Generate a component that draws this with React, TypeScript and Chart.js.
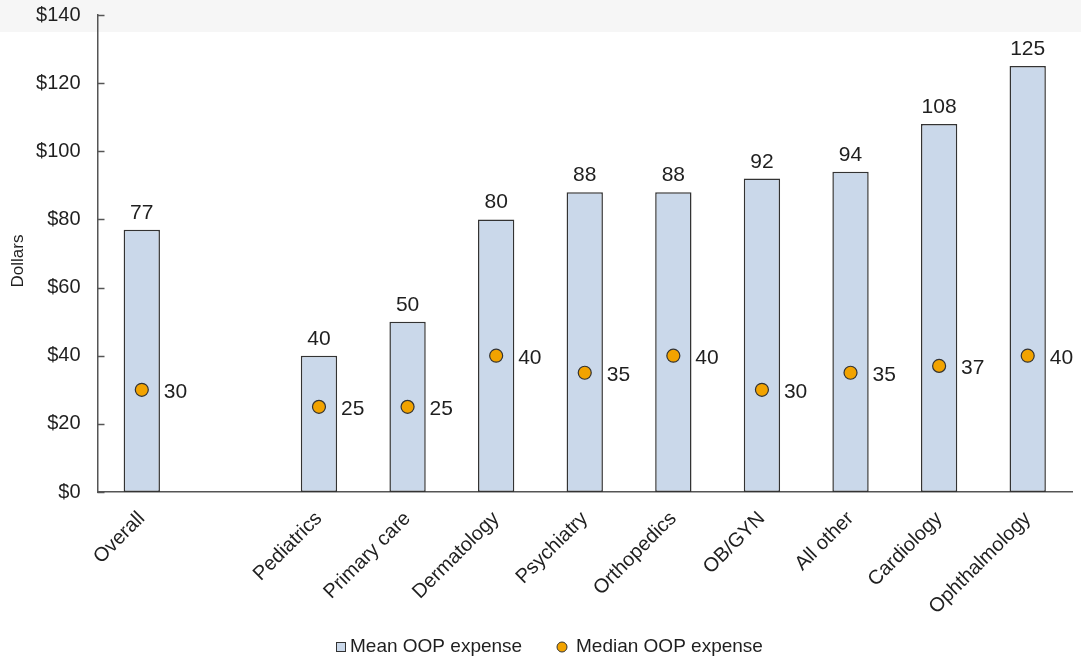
import { useEffect, useRef } from "react";
import { Chart, registerables } from "chart.js";

Chart.register(...registerables);

// Specialty categories (the blank entry leaves a gap after "Overall")
const categories = [
  "Overall",
  "",
  "Pediatrics",
  "Primary care",
  "Dermatology",
  "Psychiatry",
  "Orthopedics",
  "OB/GYN",
  "All other",
  "Cardiology",
  "Ophthalmology",
];

// Mean out-of-pocket expense per visit, dollars
const meanExpense: (number | null)[] = [77, null, 40, 50, 80, 88, 88, 92, 94, 108, 125];

// Median out-of-pocket expense per visit, dollars
const medianExpense: (number | null)[] = [30, null, 25, 25, 40, 35, 40, 30, 35, 37, 40];

// Y-axis tick values
const yTickValues = [0, 20, 40, 60, 80, 100, 120, 140];

const legendLabels = ["Mean OOP expense", "Median OOP expense"];
const yTitle = "Dollars";

const FONT = "'Liberation Sans', Arial, sans-serif";
const TEXT = "#1f1f1f";
const AXIS = "#555555";
const BAR_FILL = "#cad8ea";
const BAR_EDGE = "#333333";
const DOT_FILL = "#f2a300";
const DOT_EDGE = "#333333";

const overlayPlugin = {
  id: "overlay",
  afterDatasetsDraw(chart: any) {
    const { ctx, chartArea, scales } = chart;
    const x = scales.x;
    const y = scales.y;
    ctx.save();

    // inward tick marks on the value axis
    ctx.strokeStyle = AXIS;
    ctx.lineWidth = 1.5;
    yTickValues.forEach((v) => {
      const py = Math.round(y.getPixelForValue(v)) + 0.5;
      ctx.beginPath();
      ctx.moveTo(chartArea.left, py);
      ctx.lineTo(chartArea.left + 7, py);
      ctx.stroke();
    });

    // axis title
    ctx.fillStyle = TEXT;
    ctx.font = `17px ${FONT}`;
    ctx.textAlign = "center";
    ctx.textBaseline = "middle";
    ctx.save();
    ctx.translate(18, 261);
    ctx.rotate(-Math.PI / 2);
    ctx.fillText(yTitle, 0, 0);
    ctx.restore();

    // value labels
    ctx.font = `21px ${FONT}`;
    ctx.textBaseline = "alphabetic";
    meanExpense.forEach((v, i) => {
      if (v == null) return;
      const px = x.getPixelForValue(i);
      const py = y.getPixelForValue(v);
      ctx.textAlign = "center";
      ctx.fillText(String(v), px, py - 11);
    });
    medianExpense.forEach((v, i) => {
      if (v == null) return;
      const px = x.getPixelForValue(i);
      const py = y.getPixelForValue(v);
      ctx.textAlign = "left";
      ctx.fillText(String(v), px + 22, py + 8);
    });

    // legend
    const ly = 647;
    ctx.font = `19px ${FONT}`;
    ctx.textAlign = "left";
    ctx.textBaseline = "middle";
    ctx.fillStyle = BAR_FILL;
    ctx.fillRect(336, ly - 5, 10, 10);
    ctx.strokeStyle = BAR_EDGE;
    ctx.lineWidth = 1;
    ctx.strokeRect(336.5, ly - 4.5, 9, 9);
    ctx.fillStyle = TEXT;
    ctx.fillText(legendLabels[0], 350, ly);

    ctx.beginPath();
    ctx.arc(562, ly, 5, 0, Math.PI * 2);
    ctx.fillStyle = DOT_FILL;
    ctx.fill();
    ctx.strokeStyle = DOT_EDGE;
    ctx.stroke();
    ctx.fillStyle = TEXT;
    ctx.fillText(legendLabels[1], 576, ly);

    ctx.restore();
  },
};

export default function App() {
  const canvasRef = useRef<HTMLCanvasElement | null>(null);

  useEffect(() => {
    if (!canvasRef.current) return;
    const chart = new Chart(canvasRef.current, {
      type: "bar",
      data: {
        labels: categories,
        datasets: [
          {
            type: "line",
            label: legendLabels[1],
            data: medianExpense,
            showLine: false,
            pointRadius: 6.5,
            pointHoverRadius: 6.5,
            pointBackgroundColor: DOT_FILL,
            pointBorderColor: DOT_EDGE,
            pointBorderWidth: 1.2,
            order: 0,
          } as any,
          {
            type: "bar",
            label: legendLabels[0],
            data: meanExpense,
            backgroundColor: BAR_FILL,
            borderColor: BAR_EDGE,
            borderWidth: 1.5,
            borderSkipped: false,
            barPercentage: 0.41,
            categoryPercentage: 1,
            order: 1,
          },
        ],
      },
      options: {
        animation: false,
        responsive: false,
        maintainAspectRatio: false,
        layout: { padding: { top: 15, right: 9, bottom: 0, left: 0 } },
        plugins: {
          legend: { display: false },
          tooltip: { enabled: false },
        },
        scales: {
          x: {
            offset: true,
            grid: { display: false, drawTicks: false },
            border: { display: true, color: AXIS, width: 1.5 },
            ticks: {
              color: TEXT,
              font: { family: FONT, size: 20 },
              maxRotation: 45,
              minRotation: 45,
              padding: 15,
              autoSkip: false,
            },
            afterFit(scale: any) {
              scale.height = 168;
              scale.paddingLeft = 0;
              scale.paddingRight = 0;
            },
          },
          y: {
            min: 0,
            max: 140,
            grid: { display: false, drawTicks: false },
            border: { display: true, color: AXIS, width: 1.5 },
            ticks: {
              stepSize: 20,
              color: TEXT,
              font: { family: FONT, size: 20 },
              padding: 17,
              callback: (v: any) => "$" + v,
            },
            afterFit(scale: any) {
              scale.width = 97.5;
              scale.paddingTop = 0;
              scale.paddingBottom = 0;
            },
          },
        },
      },
      plugins: [overlayPlugin],
    });
    return () => chart.destroy();
  }, []);

  return (
    <div
      style={{
        position: "absolute",
        left: 0,
        top: 0,
        width: 1081,
        height: 660,
        background: "linear-gradient(to bottom, #f6f6f6 0px, #f6f6f6 32px, #ffffff 32px)",
      }}
    >
      <canvas ref={canvasRef} width={1081} height={660} style={{ display: "block" }} />
    </div>
  );
}
